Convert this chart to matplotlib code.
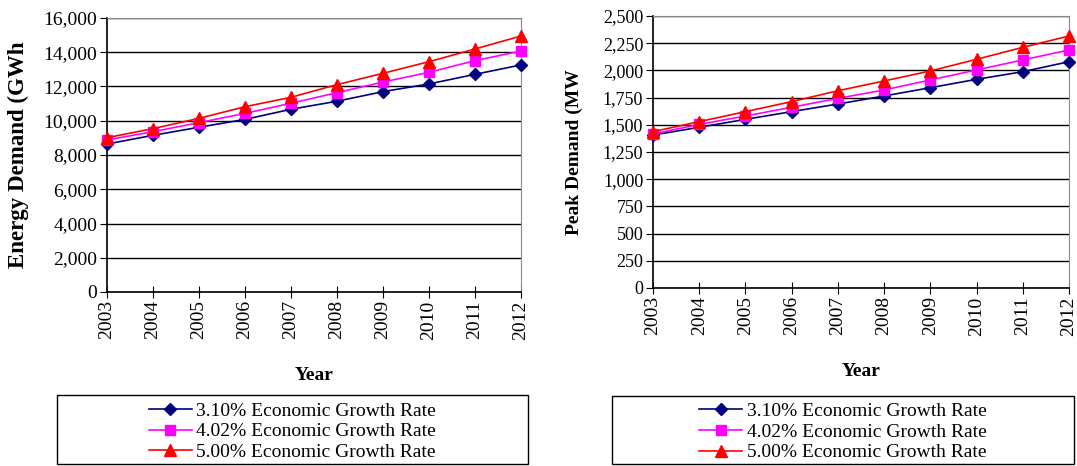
import matplotlib.pyplot as plt
from matplotlib.patches import Rectangle
from matplotlib.ticker import FuncFormatter

# Data
years = [2003, 2004, 2005, 2006, 2007, 2008, 2009, 2010, 2011, 2012]

energy_310 = [8640, 9150, 9620, 10080, 10670, 11140, 11700, 12150, 12710, 13260]
energy_402 = [8880, 9360, 9890, 10430, 11020, 11640, 12260, 12830, 13510, 14070]
energy_500 = [9010, 9540, 10140, 10820, 11370, 12110, 12770, 13450, 14190, 14950]

peak_310 = [1406, 1477, 1550, 1621, 1691, 1765, 1841, 1918, 1988, 2080]
peak_402 = [1415, 1504, 1581, 1661, 1743, 1820, 1912, 2004, 2096, 2188]
peak_500 = [1437, 1529, 1621, 1713, 1813, 1903, 1995, 2102, 2212, 2316]

series_labels = ['3.10% Economic Growth Rate',
                 '4.02% Economic Growth Rate',
                 '5.00% Economic Growth Rate']
series_colors = ['#000080', '#FF00FF', '#FF0000']
series_markers = ['D', 's', '^']
series_msize = [6, 7, 8]

plt.rcParams['font.family'] = 'Liberation Serif'
plt.rcParams['font.size'] = 12

W, H = 1077, 466
fig = plt.figure(figsize=(W / 100, H / 100), dpi=100)


def px_axes(x0, x1, y_top, y_bot):
    return fig.add_axes([x0 / W, 1 - y_bot / H, (x1 - x0) / W, (y_bot - y_top) / H])


def style_axes(ax, ymax, ystep, ylabel, label_x, ytick_size, ylabel_size):
    ax.set_xlim(years[0], years[-1])
    ax.set_ylim(0, ymax)
    ax.set_xticks(years)
    ax.set_xticklabels([str(y) for y in years], rotation=90)
    ax.set_yticks(range(0, ymax + 1, ystep))
    ax.yaxis.set_major_formatter(FuncFormatter(lambda v, p: f'{int(v):,}'))
    ax.grid(axis='y', color='black', linewidth=1)
    ax.set_axisbelow(True)
    for side in ['top', 'right']:
        ax.spines[side].set_color('#888888')
    for side in ['left', 'bottom']:
        ax.spines[side].set_color('black')
        ax.spines[side].set_linewidth(1.2)
    ax.tick_params(axis='y', direction='out', length=5, pad=2, labelsize=ytick_size)
    ax.tick_params(axis='x', direction='inout', length=8, pad=2, labelsize=14)
    ax.set_xlabel('Year', fontweight='bold', fontsize=14, labelpad=20)
    fig.text(label_x, ax.get_position().y0 + ax.get_position().height / 2, ylabel,
             rotation=90, ha='center', va='center', fontweight='bold', fontsize=ylabel_size)


def draw_series(ax, data):
    handles = []
    for vals, c, m, ms, lab in zip(data, series_colors, series_markers, series_msize, series_labels):
        h, = ax.plot(years, vals, color=c, marker=m, markersize=ms, linewidth=1.2,
                     label=lab, clip_on=False, zorder=3)
        handles.append(h)
    return handles


def legend_box(x0, x1, y_top, y_bot, handles):
    fig.patches.append(Rectangle((x0 / W, 1 - y_bot / H), (x1 - x0) / W, (y_bot - y_top) / H,
                                 transform=fig.transFigure, fill=False,
                                 edgecolor='black', linewidth=1))
    fig.legend(handles=handles, loc='center',
               bbox_to_anchor=((x0 + x1) / 2 / W, 1 - ((y_top + y_bot) / 2 + 2) / H),
               frameon=False, fontsize=14, handlelength=2.2, handletextpad=0.25,
               labelspacing=0.15, borderpad=0)


# Energy demand
ax1 = px_axes(107, 521, 18, 292)
h1 = draw_series(ax1, [energy_310, energy_402, energy_500])
style_axes(ax1, 16000, 2000, 'Energy Demand (GWh', 18 / W, 14, 16.5)
legend_box(57, 528, 395, 464, h1)

# Peak demand
ax2 = px_axes(653, 1069, 16, 288)
h2 = draw_series(ax2, [peak_310, peak_402, peak_500])
style_axes(ax2, 2500, 250, 'Peak Demand (MW', 574 / W, 13, 14)
legend_box(612, 1074, 396, 464, h2)

fig.savefig('out.png', dpi=100)
